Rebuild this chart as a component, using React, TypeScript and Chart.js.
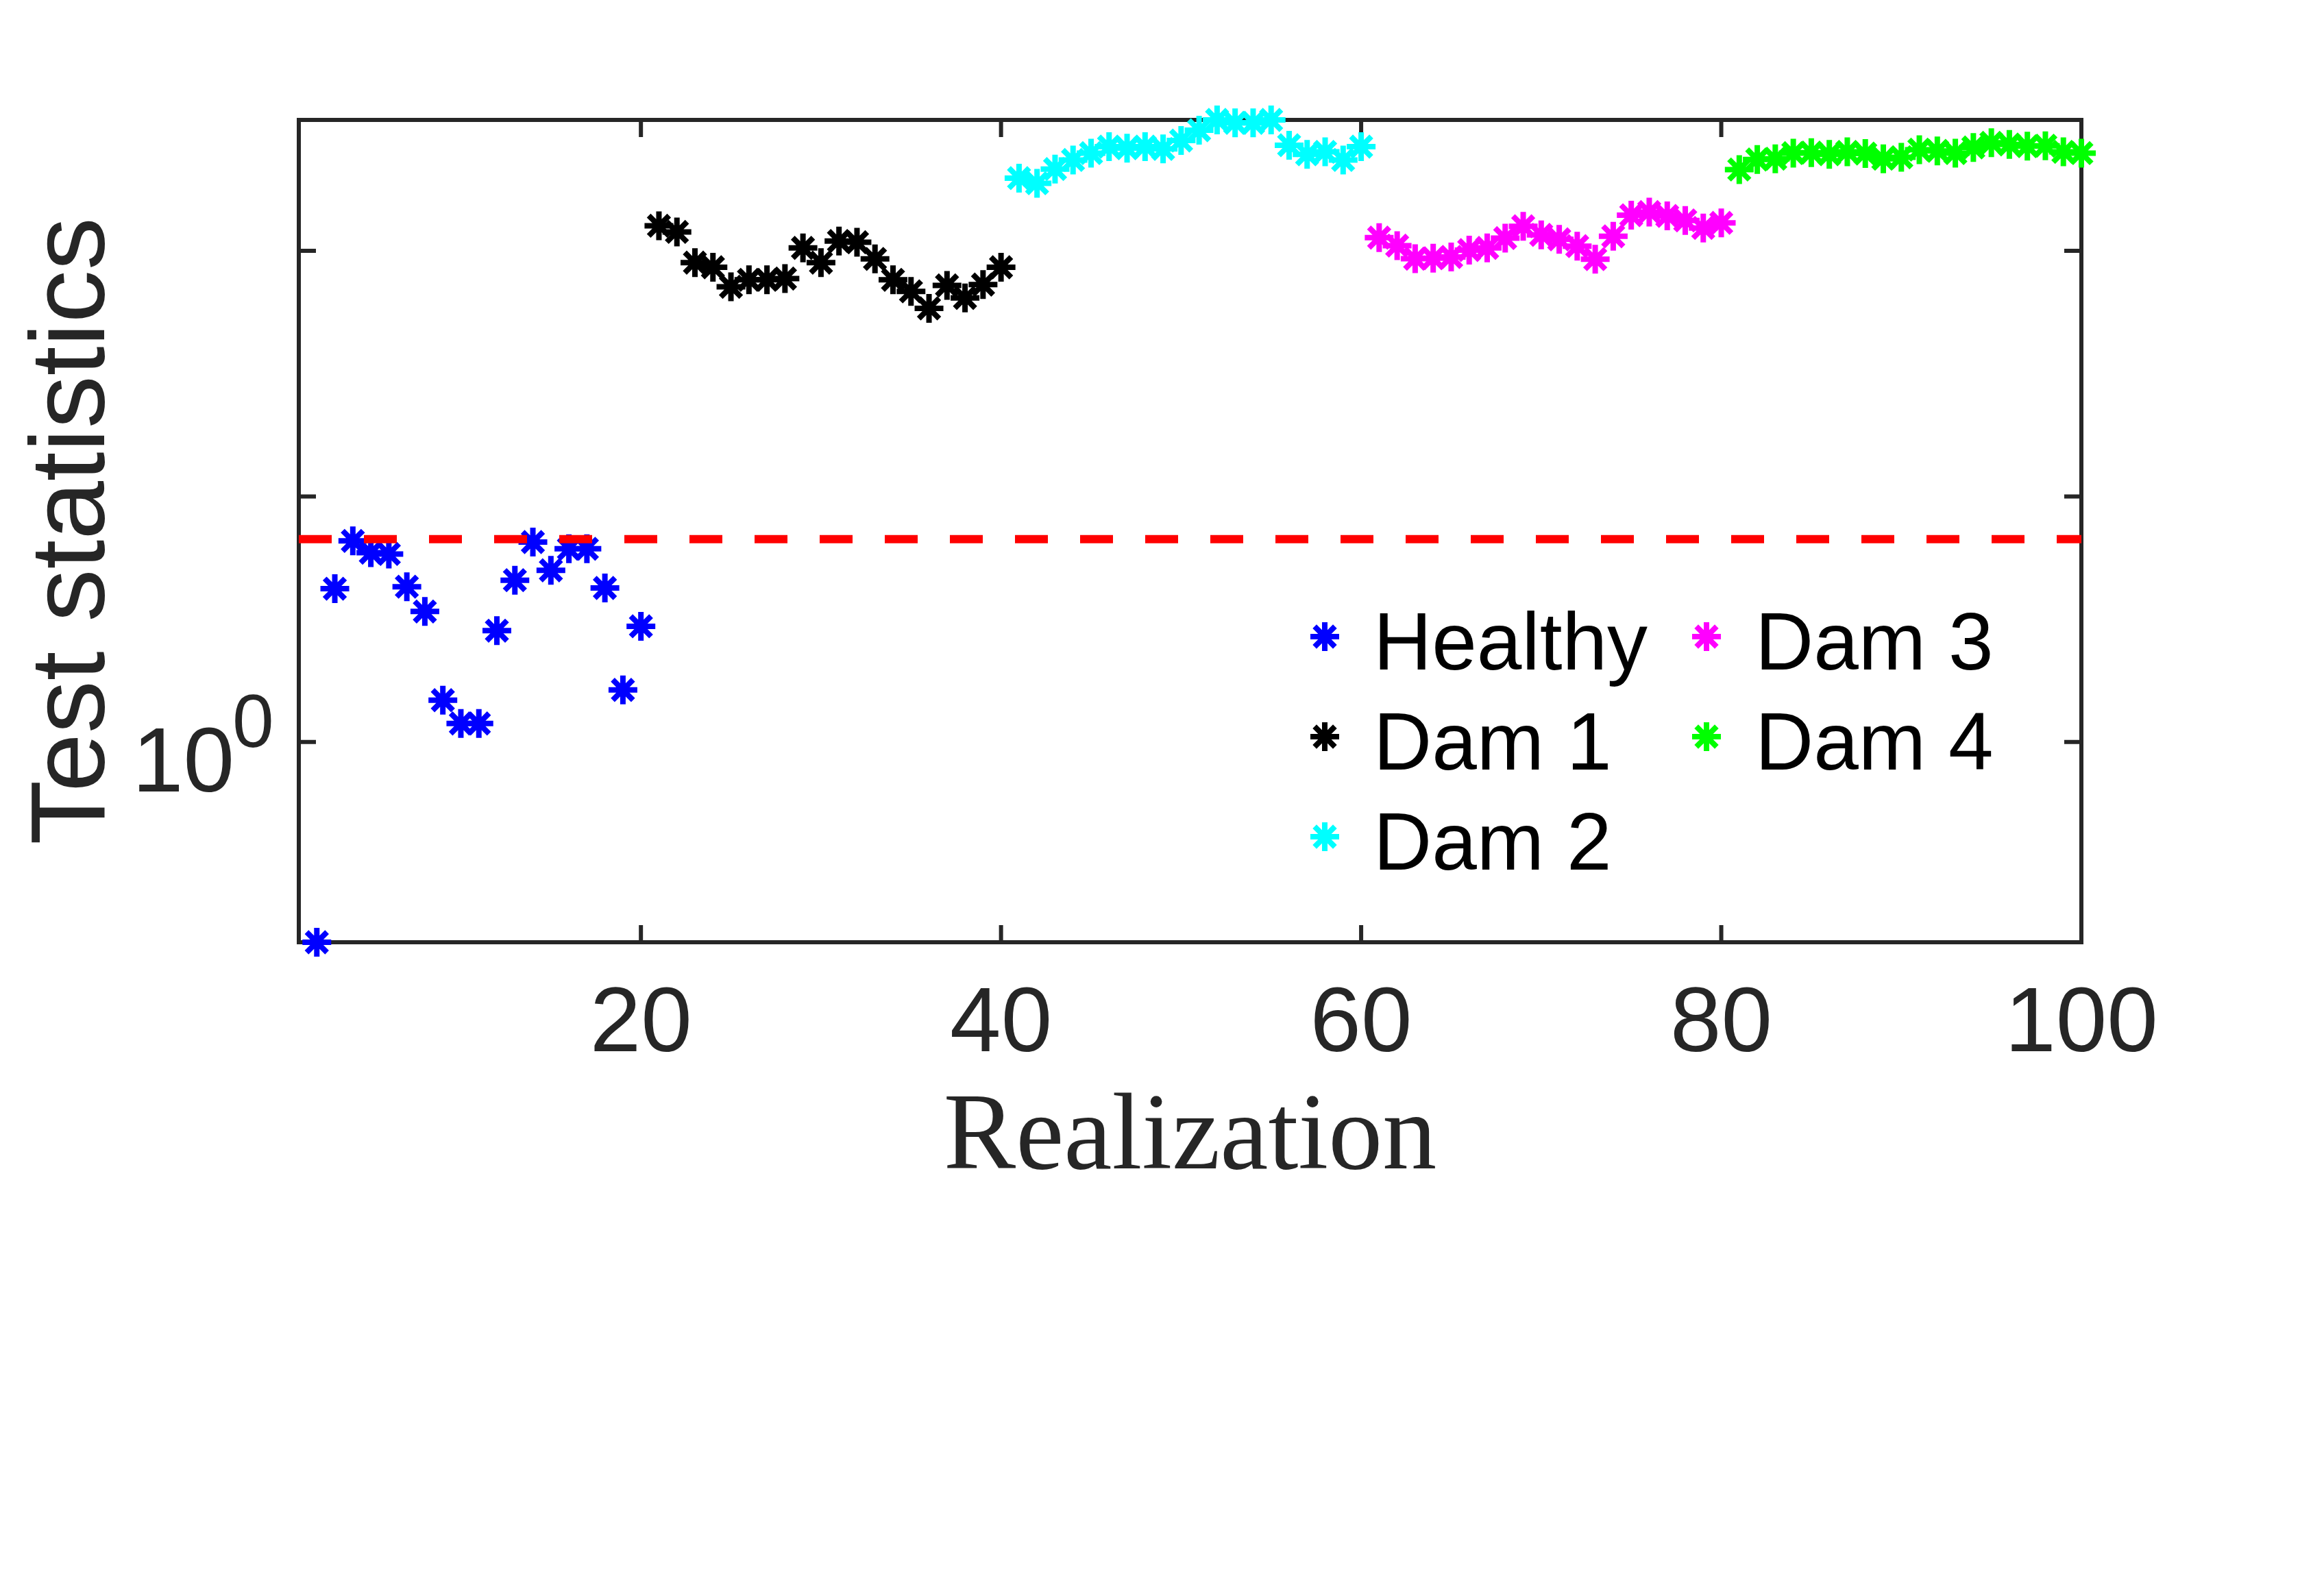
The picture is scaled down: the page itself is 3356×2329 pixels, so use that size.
import React, { useEffect, useRef } from 'react';
import { Chart, registerables } from 'chart.js';

Chart.register(...registerables);

// realizations 2..20
const healthy = [0.153, 4.21, 6.59, 5.9, 5.83, 4.29, 3.4, 1.48, 1.19, 1.19, 2.84, 4.56, 6.52, 5.0, 6.12, 6.12, 4.24, 1.63, 2.96];
// realizations 21..40
const dam1 = [126.5, 119.4, 89.5, 85.7, 71.4, 76.2, 76.2, 77.1, 102.8, 89.5, 109.6, 108.4, 92.7, 76.2, 68.4, 58.3, 72.3, 64.3, 72.9, 85.7];
// realizations 41..60
const dam2 = [197.7, 188.4, 215.3, 234.4, 250.0, 265.5, 261.8, 265.5, 260.0, 281.2, 309.7, 341.2, 331.9, 331.9, 341.2, 269.2, 247.2, 252.9, 234.4, 265.5];
// realizations 61..80
const dam3 = [113.2, 105.0, 92.9, 93.3, 94.4, 100.7, 102.8, 112.7, 125.9, 116.1, 111.4, 104.5, 92.5, 114.6, 139.6, 143.9, 138.7, 133.0, 123.9, 130.0];
// realizations 81..100
const dam4 = [214.3, 235.5, 237.1, 250.0, 251.2, 247.2, 252.9, 248.9, 237.1, 240.4, 258.2, 255.3, 250.0, 263.6, 275.4, 271.0, 266.7, 267.9, 252.9, 250.0];

const seriesStart = [2, 21, 41, 61, 81];
const seriesNames = ['Healthy', 'Dam 1', 'Dam 2', 'Dam 3', 'Dam 4'];
const seriesColors = ['#0000ff', '#000000', '#00ffff', '#ff00ff', '#00ff00'];
const threshold = 6.7;

const xTicks = [20, 40, 60, 80, 100];
const yTicks = [1, 10, 100];
const yLabelled = [1];

const W = 3356;
const H = 2329;
const axisColor = '#262626';
const sans = '"Liberation Sans", Arial, Helvetica, sans-serif';

function star(ctx: CanvasRenderingContext2D, x: number, y: number, r: number) {
  const d = r * Math.SQRT1_2;
  ctx.beginPath();
  ctx.moveTo(x - r, y); ctx.lineTo(x + r, y);
  ctx.moveTo(x, y - r); ctx.lineTo(x, y + r);
  ctx.moveTo(x - d, y - d); ctx.lineTo(x + d, y + d);
  ctx.moveTo(x - d, y + d); ctx.lineTo(x + d, y - d);
  ctx.stroke();
}

const frame = {
  id: 'frame',
  beforeDatasetsDraw(chart: any) {
    const { ctx, chartArea: a, scales } = chart;
    const xs = scales.x;
    const ys = scales.y;
    ctx.save();
    ctx.strokeStyle = axisColor;
    ctx.lineWidth = 6;
    ctx.strokeRect(a.left, a.top, a.right - a.left, a.bottom - a.top);
    ctx.beginPath();
    for (const t of xs.ticks) {
      const px = xs.getPixelForValue(t.value);
      ctx.moveTo(px, a.bottom); ctx.lineTo(px, a.bottom - 25);
      ctx.moveTo(px, a.top); ctx.lineTo(px, a.top + 25);
    }
    for (const t of ys.ticks) {
      const py = ys.getPixelForValue(t.value);
      ctx.moveTo(a.left, py); ctx.lineTo(a.left + 25, py);
      ctx.moveTo(a.right, py); ctx.lineTo(a.right - 25, py);
    }
    ctx.stroke();
    ctx.restore();
  },
  afterDraw(chart: any) {
    const { ctx, chartArea: a, scales } = chart;
    const ys = scales.y;
    ctx.save();
    ctx.fillStyle = axisColor;

    // y tick labels as 10^n
    for (const v of yLabelled) {
      const py = ys.getPixelForValue(v);
      ctx.textBaseline = 'alphabetic';
      ctx.textAlign = 'right';
      ctx.font = `134px ${sans}`;
      ctx.fillText('10', 342, py + 72);
      ctx.textAlign = 'left';
      ctx.font = `109px ${sans}`;
      ctx.fillText(String(Math.round(Math.log10(v))), 339, py + 7);
    }

    // axis titles
    ctx.save();
    ctx.translate(152, (a.top + a.bottom) / 2);
    ctx.rotate(-Math.PI / 2);
    ctx.textAlign = 'center';
    ctx.textBaseline = 'alphabetic';
    ctx.font = `154px ${sans}`;
    ctx.fillText('Test statistics', 0, 0);
    ctx.restore();

    ctx.textAlign = 'center';
    ctx.textBaseline = 'alphabetic';
    ctx.font = '158px "Liberation Serif", "Times New Roman", serif';
    ctx.fillText('Realization', (a.left + a.right) / 2, 1705);

    // legend, column-major, 3 rows
    ctx.font = `118px ${sans}`;
    ctx.textAlign = 'left';
    ctx.lineWidth = 8;
    seriesNames.forEach((name, i) => {
      const col = Math.floor(i / 3);
      const row = i % 3;
      const mx = 1933 + col * 557;
      const my = 929 + row * 146;
      ctx.strokeStyle = seriesColors[i];
      star(ctx, mx, my, 21);
      ctx.fillStyle = '#000000';
      ctx.fillText(name, mx + 71, my + 48);
    });
    ctx.restore();
  },
};

export default function App() {
  const canvasRef = useRef<HTMLCanvasElement | null>(null);

  useEffect(() => {
    document.body.style.margin = '0';
    const canvas = canvasRef.current;
    if (!canvas) return;

    const series = [healthy, dam1, dam2, dam3, dam4];
    const all = series.flat();
    const yMin = Math.min(...all);
    const yMax = Math.max(...all);

    const datasets: any[] = series.map((vals, i) => ({
      label: seriesNames[i],
      data: vals.map((y, j) => ({ x: seriesStart[i] + j, y })),
      pointStyle: 'star',
      pointRadius: 21,
      pointBorderWidth: 8,
      borderColor: seriesColors[i],
      backgroundColor: seriesColors[i],
      showLine: false,
      clip: false,
      order: 5 - i,
    }));
    datasets.push({
      label: 'threshold',
      data: [{ x: 1, y: threshold }, { x: 100, y: threshold }],
      showLine: true,
      borderColor: '#ff0000',
      borderWidth: 12,
      borderDash: [48, 47],
      pointRadius: 0,
      clip: false,
      order: 0,
    });

    const chart = new Chart(canvas, {
      type: 'scatter',
      data: { datasets },
      options: {
        animation: false,
        responsive: false,
        devicePixelRatio: 1,
        events: [],
        layout: { padding: { left: 0, right: 319, top: 175, bottom: 0 } },
        plugins: { legend: { display: false }, tooltip: { enabled: false } },
        scales: {
          x: {
            type: 'linear',
            min: 1,
            max: 100,
            afterBuildTicks: (s: any) => { s.ticks = xTicks.map((v) => ({ value: v })); },
            afterFit: (s: any) => { s.height = 954; },
            ticks: {
              autoSkip: false,
              maxRotation: 0,
              padding: 42,
              color: axisColor,
              font: { family: sans, size: 134 },
            },
            grid: { display: false, drawTicks: false },
            border: { display: false },
          },
          y: {
            type: 'logarithmic',
            min: yMin,
            max: yMax,
            afterBuildTicks: (s: any) => { s.ticks = yTicks.map((v) => ({ value: v })); },
            afterFit: (s: any) => { s.width = 436; },
            ticks: { display: false },
            grid: { display: false, drawTicks: false },
            border: { display: false },
          },
        },
      },
      plugins: [frame],
    });
    return () => chart.destroy();
  }, []);

  return (
    <div style={{ width: W, height: H, background: '#fff' }}>
      <canvas ref={canvasRef} width={W} height={H} style={{ width: W, height: H, display: 'block' }} />
    </div>
  );
}
